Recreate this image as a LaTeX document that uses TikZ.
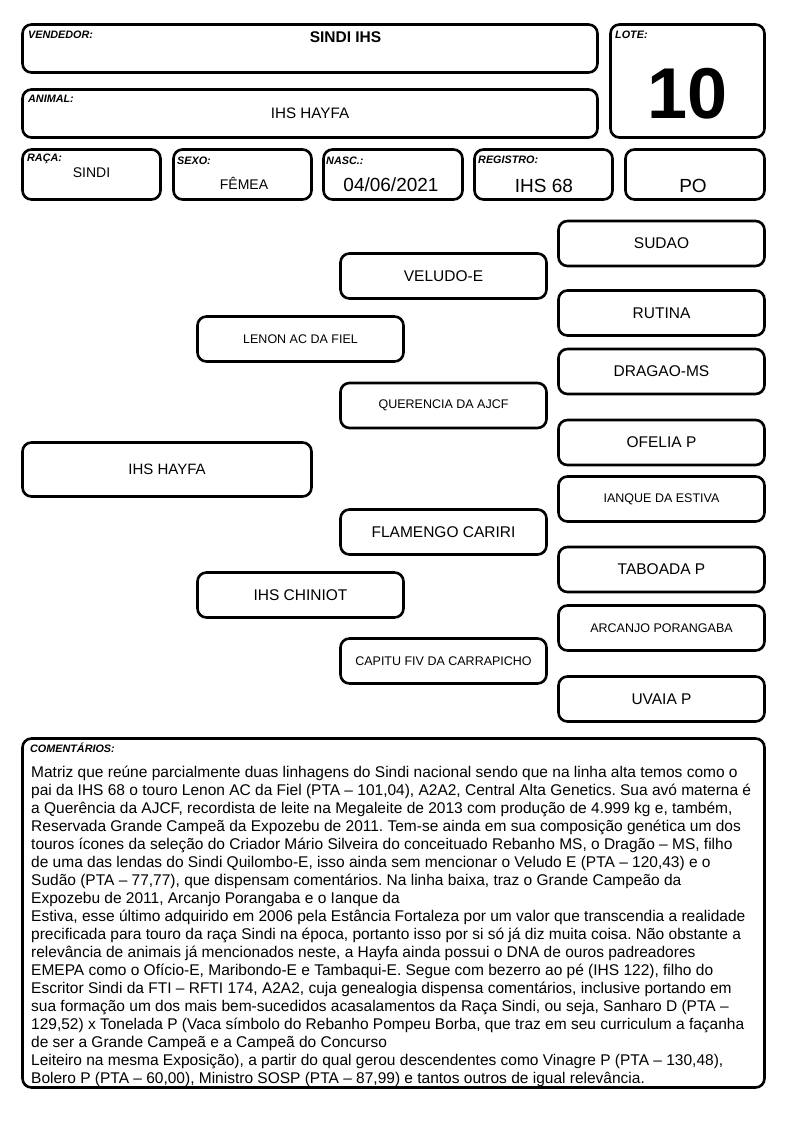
\documentclass[tikz,border=0pt]{standalone}
\usepackage{fontspec}
\setmainfont{Liberation Sans}
\frenchspacing
\begin{document}
\begin{tikzpicture}[x=1pt,y=-1pt,
  frame/.style={draw, line width=2.6pt, rounded corners=9pt, inner sep=0pt},
  ped/.style={frame, minimum width=206pt, minimum height=45pt, font=\fontsize{15.5}{17}\selectfont},
  pedsmall/.style={ped, font=\fontsize{12.5}{14}\selectfont},
  lbl/.style={anchor=base west, inner sep=0pt, font=\fontsize{10.8}{12}\selectfont\bfseries\itshape},
  val/.style={anchor=base, inner sep=0pt},
  cline/.style={anchor=base west, inner sep=0pt, font=\fontsize{15.5}{18}\selectfont}]
\useasboundingbox (0,0) rectangle (794,1123);
% header boxes
\node[frame, minimum width=575pt, minimum height=48pt] (vend) at (310,48.5) {};
\node[frame, minimum width=575pt, minimum height=48pt] (anim) at (310,113.5) {};
\node[frame, minimum width=154pt, minimum height=113pt] (lote) at (687.5,81) {};
\node[frame, minimum width=138pt, minimum height=50pt] (raca) at (91.5,174.5) {};
\node[frame, minimum width=138pt, minimum height=50pt] (sexo) at (242.5,174.5) {};
\node[frame, minimum width=139pt, minimum height=50pt] (nasc) at (393,174.5) {};
\node[frame, minimum width=138pt, minimum height=50pt] (reg) at (543.5,174.5) {};
\node[frame, minimum width=139pt, minimum height=50pt] (po) at (695,174.5) {};
% header labels
\node[lbl] (lvend) at (28,38.5) {VENDEDOR:};
\node[lbl] (lanim) at (28,103) {ANIMAL:};
\node[lbl] (llote) at (615,39) {LOTE:};
\node[lbl] (lraca) at (27,162) {RAÇA:};
\node[lbl] (lsexo) at (177,165) {SEXO:};
\node[lbl] (lnasc) at (326,165) {NASC.:};
\node[lbl] (lreg) at (478,164) {REGISTRO:};
% header values
\node[val, font=\fontsize{15.5}{17}\selectfont\bfseries] (vvend) at (345.5,43) {SINDI IHS};
\node[val, font=\fontsize{15.2}{17}\selectfont] (vanim) at (310,119) {IHS HAYFA};
\node[val, font=\fontsize{72}{80}\selectfont\bfseries] (vlote) at (687.5,119) {10};
\node[val, font=\fontsize{14}{16}\selectfont] (vraca) at (91.5,178) {SINDI};
\node[val, font=\fontsize{14}{16}\selectfont] (vsexo) at (244,190) {FÊMEA};
\node[val, font=\fontsize{19}{21}\selectfont] (vnasc) at (391,192) {04/06/2021};
\node[val, font=\fontsize{19}{21}\selectfont] (vreg) at (544,193) {IHS 68};
\node[val, font=\fontsize{19}{21}\selectfont] (vpo) at (693,193) {PO};
% pedigree
\node[frame, minimum width=289pt, minimum height=54pt, font=\fontsize{15}{17}\selectfont] (hayfa) at (167,469.5) {IHS HAYFA};
\node[pedsmall] (lenon) at (300.5,339) {LENON AC DA FIEL};
\node[ped] (chiniot) at (300.5,595) {IHS CHINIOT};
\node[ped] (veludo) at (443.5,276) {VELUDO-E};
\node[pedsmall] (querencia) at (443.5,405.5) {QUERENCIA DA AJCF};
\node[ped] (flamengo) at (443.5,532) {FLAMENGO CARIRI};
\node[pedsmall] (capitu) at (443.5,661) {CAPITU FIV DA CARRAPICHO};
\node[ped] (sudao) at (661.5,243.5) {SUDAO};
\node[ped] (rutina) at (661.5,313) {RUTINA};
\node[ped] (dragao) at (661.5,371.5) {DRAGAO-MS};
\node[ped] (ofelia) at (661.5,442.5) {OFELIA P};
\node[pedsmall] (ianque) at (661.5,499) {IANQUE DA ESTIVA};
\node[ped] (taboada) at (661.5,569.5) {TABOADA P};
\node[pedsmall] (arcanjo) at (661.5,628) {ARCANJO PORANGABA};
\node[ped] (uvaia) at (661.5,699) {UVAIA P};
% comments
\node[frame, minimum width=742pt, minimum height=349pt] (com) at (393.5,913) {};
\node[lbl] (lcom) at (30,752) {COMENTÁRIOS:};
\foreach \t [count=\i] in {
 {Matriz que reúne parcialmente duas linhagens do Sindi nacional sendo que na linha alta temos como o},
 {pai da IHS 68 o touro Lenon AC da Fiel (PTA – 101,04), A2A2, Central Alta Genetics. Sua avó materna é},
 {a Querência da AJCF, recordista de leite na Megaleite de 2013 com produção de 4.999 kg e, também,},
 {Reservada Grande Campeã da Expozebu de 2011. Tem-se ainda em sua composição genética um dos},
 {touros ícones da seleção do Criador Mário Silveira do conceituado Rebanho MS, o Dragão – MS, filho},
 {de uma das lendas do Sindi Quilombo-E, isso ainda sem mencionar o Veludo E (PTA – 120,43) e o},
 {Sudão (PTA – 77,77), que dispensam comentários. Na linha baixa, traz o Grande Campeão da},
 {Expozebu de 2011, Arcanjo Porangaba e o Ianque da},
 {Estiva, esse último adquirido em 2006 pela Estância Fortaleza por um valor que transcendia a realidade},
 {precificada para touro da raça Sindi na época, portanto isso por si só já diz muita coisa. Não obstante a},
 {relevância de animais já mencionados neste, a Hayfa ainda possui o DNA de ouros padreadores},
 {EMEPA como o Ofício-E, Maribondo-E e Tambaqui-E. Segue com bezerro ao pé (IHS 122), filho do},
 {Escritor Sindi da FTI – RFTI 174, A2A2, cuja genealogia dispensa comentários, inclusive portando em},
 {sua formação um dos mais bem-sucedidos acasalamentos da Raça Sindi, ou seja, Sanharo D (PTA –},
 {129,52) x Tonelada P (Vaca símbolo do Rebanho Pompeu Borba, que traz em seu curriculum a façanha},
 {de ser a Grande Campeã e a Campeã do Concurso},
 {Leiteiro na mesma Exposição), a partir do qual gerou descendentes como Vinagre P (PTA – 130,48),},
 {Bolero P (PTA – 60,00), Ministro SOSP (PTA – 87,99) e tantos outros de igual relevância.}}
 {\node[cline] (c\i) at (31,{777+18*(\i-1)}) {\t};}
\end{tikzpicture}
\end{document}
